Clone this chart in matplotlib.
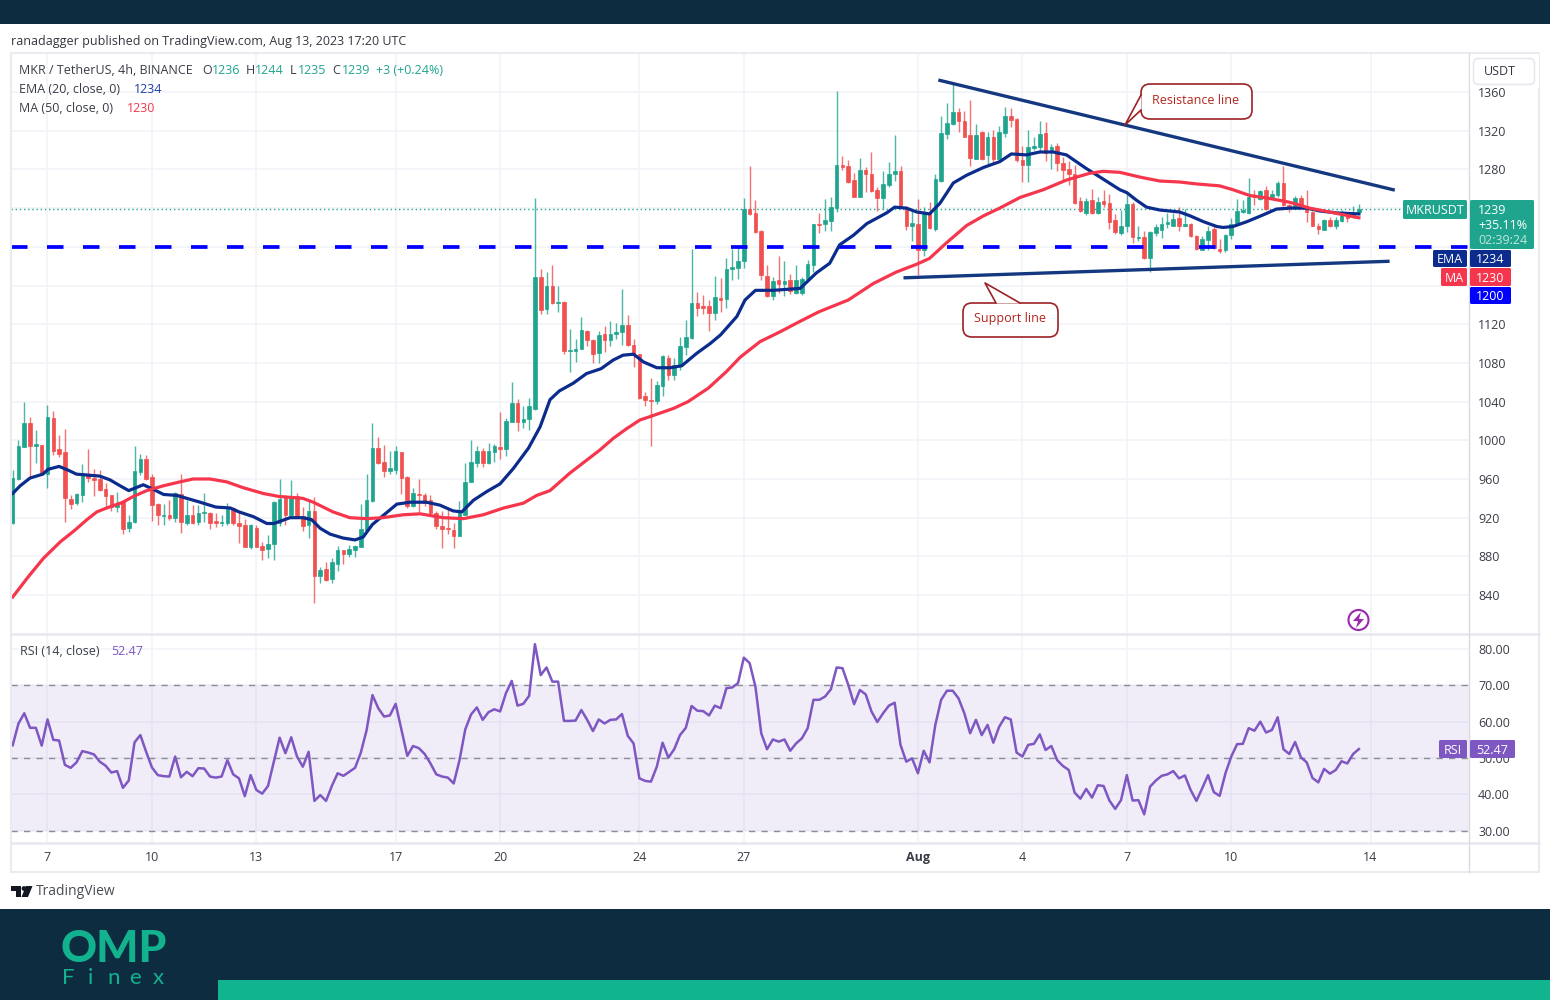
import matplotlib
matplotlib.use("Agg")
import matplotlib.pyplot as plt
import numpy as np
from matplotlib.patches import Circle, FancyBboxPatch, Polygon, Rectangle

plt.rcParams["font.family"] = ["Open Sans", "DejaVu Sans"]
plt.rcParams["font.size"] = 9

# candles, 4h, first one on Jul 6 00:00
opens = [
    915, 960, 993, 1018, 994, 995, 965, 1023, 991, 988,
    939, 935, 943, 965, 961, 960, 950, 943, 931, 936,
    909, 916, 967, 981, 962, 934, 922, 923, 920, 944,
    915, 923, 916, 925, 925, 917, 915, 915, 930, 914,
    912, 890, 909, 891, 888, 893, 914, 942, 923, 942,
    922, 912, 927, 860, 867, 857, 872, 887, 882, 887,
    890, 907, 937, 992, 978, 968, 969, 988, 962, 932,
    944, 943, 938, 925, 911, 909, 907, 901, 923, 957,
    977, 989, 977, 988, 993, 991, 1019, 1039, 1019, 1022,
    1032, 1169, 1136, 1159, 1142, 1143, 1092, 1092, 1094, 1113,
    1104, 1090, 1110, 1104, 1110, 1112, 1119, 1098, 1089, 1046,
    1042, 1041, 1056, 1085, 1068, 1077, 1096, 1106, 1142, 1139,
    1139, 1132, 1147, 1146, 1177, 1178, 1185, 1239, 1235, 1216,
    1170, 1149, 1166, 1162, 1166, 1152, 1152, 1167, 1181, 1224,
    1224, 1227, 1240, 1285, 1284, 1269, 1252, 1279, 1275, 1259,
    1250, 1264, 1275, 1278, 1241, 1222, 1224, 1197, 1235, 1218,
    1268, 1317, 1327, 1339, 1330, 1316, 1291, 1319, 1295, 1314,
    1291, 1318, 1335, 1332, 1290, 1285, 1302, 1303, 1318, 1298,
    1304, 1287, 1280, 1275, 1247, 1235, 1248, 1235, 1247, 1245,
    1228, 1214, 1221, 1244, 1209, 1210, 1188, 1214, 1217, 1224,
    1222, 1230, 1221, 1224, 1211, 1197, 1207, 1218, 1198, 1197,
    1212, 1225, 1236, 1235, 1253, 1249, 1259, 1252, 1254, 1266,
    1243, 1241, 1250, 1241, 1236, 1222, 1217, 1228, 1222, 1227,
    1234, 1231, 1236,
]
closes = [
    961, 994, 1018, 994, 996, 966, 1024, 989, 986, 940,
    934, 944, 966, 961, 959, 949, 942, 931, 934, 908,
    916, 968, 981, 960, 933, 923, 923, 920, 946, 916,
    923, 915, 925, 926, 915, 914, 916, 930, 914, 911,
    890, 912, 890, 887, 893, 936, 939, 923, 942, 922,
    911, 927, 860, 866, 856, 874, 887, 882, 888, 891,
    908, 938, 992, 977, 968, 971, 989, 961, 932, 945,
    943, 935, 925, 911, 908, 908, 901, 927, 957, 978,
    989, 977, 989, 994, 991, 1020, 1039, 1019, 1022, 1035,
    1169, 1135, 1159, 1142, 1143, 1092, 1093, 1094, 1114, 1104,
    1089, 1109, 1104, 1110, 1112, 1119, 1098, 1088, 1044, 1042,
    1041, 1057, 1087, 1068, 1078, 1097, 1107, 1142, 1137, 1137,
    1132, 1148, 1145, 1177, 1179, 1185, 1239, 1234, 1215, 1171,
    1149, 1165, 1162, 1165, 1154, 1166, 1167, 1182, 1224, 1223,
    1228, 1241, 1285, 1283, 1267, 1252, 1279, 1275, 1258, 1250,
    1265, 1275, 1278, 1241, 1222, 1225, 1197, 1235, 1219, 1270,
    1318, 1328, 1339, 1330, 1314, 1292, 1316, 1291, 1314, 1291,
    1319, 1335, 1331, 1290, 1285, 1303, 1304, 1317, 1297, 1303,
    1287, 1279, 1275, 1245, 1237, 1247, 1235, 1246, 1244, 1226,
    1215, 1222, 1244, 1210, 1210, 1188, 1215, 1220, 1224, 1226,
    1229, 1221, 1224, 1211, 1198, 1208, 1216, 1199, 1196, 1212,
    1224, 1237, 1238, 1252, 1252, 1258, 1239, 1255, 1266, 1243,
    1241, 1250, 1240, 1236, 1222, 1218, 1228, 1222, 1228, 1233,
    1230, 1235, 1239,
]
highs = [
    969, 1000, 1040, 1024, 1011, 995, 1036, 1030, 1005, 1012,
    943, 945, 976, 991, 970, 969, 956, 943, 947, 937,
    923, 994, 986, 985, 965, 935, 934, 938, 947, 965,
    938, 933, 933, 946, 926, 925, 923, 935, 931, 926,
    919, 913, 912, 895, 902, 937, 960, 943, 959, 946,
    931, 938, 941, 869, 874, 878, 891, 887, 892, 892,
    934, 965, 1018, 1003, 995, 989, 994, 988, 963, 951,
    960, 945, 943, 927, 927, 930, 914, 937, 977, 1000,
    994, 992, 997, 996, 1029, 1023, 1060, 1043, 1035, 1044,
    1250, 1177, 1174, 1181, 1160, 1144, 1115, 1105, 1127, 1114,
    1105, 1113, 1118, 1123, 1121, 1156, 1130, 1105, 1089, 1050,
    1064, 1061, 1088, 1088, 1085, 1107, 1124, 1198, 1153, 1150,
    1145, 1170, 1168, 1188, 1198, 1200, 1250, 1284, 1248, 1217,
    1181, 1169, 1190, 1185, 1172, 1181, 1169, 1186, 1224, 1235,
    1249, 1252, 1361, 1294, 1290, 1276, 1292, 1282, 1298, 1262,
    1278, 1288, 1316, 1284, 1242, 1238, 1249, 1241, 1246, 1275,
    1335, 1349, 1370, 1343, 1340, 1352, 1327, 1320, 1319, 1321,
    1325, 1344, 1343, 1333, 1304, 1321, 1313, 1330, 1329, 1306,
    1307, 1293, 1289, 1285, 1252, 1250, 1260, 1252, 1259, 1255,
    1234, 1238, 1257, 1246, 1221, 1216, 1216, 1224, 1231, 1235,
    1235, 1241, 1239, 1225, 1212, 1211, 1222, 1224, 1208, 1213,
    1230, 1249, 1248, 1271, 1259, 1259, 1263, 1259, 1268, 1284,
    1244, 1253, 1254, 1259, 1237, 1225, 1229, 1231, 1231, 1238,
    1235, 1242, 1244,
]
lows = [
    913, 959, 993, 961, 977, 966, 951, 985, 983, 916,
    929, 933, 936, 957, 942, 948, 931, 927, 926, 903,
    905, 915, 964, 959, 917, 912, 912, 918, 916, 904,
    912, 913, 912, 916, 908, 910, 911, 912, 912, 894,
    890, 888, 890, 876, 878, 876, 911, 912, 920, 921,
    906, 899, 832, 852, 855, 853, 865, 872, 879, 879,
    890, 907, 936, 975, 962, 965, 965, 944, 930, 931,
    926, 932, 924, 908, 889, 903, 889, 901, 923, 957,
    972, 972, 976, 978, 981, 984, 1019, 1010, 1013, 1011,
    1031, 1131, 1131, 1141, 1133, 1089, 1071, 1081, 1094, 1097,
    1080, 1080, 1091, 1097, 1105, 1098, 1097, 1076, 1043, 1035,
    994, 1037, 1046, 1062, 1062, 1073, 1088, 1105, 1128, 1131,
    1113, 1124, 1133, 1137, 1166, 1167, 1178, 1233, 1214, 1166,
    1148, 1145, 1152, 1149, 1151, 1151, 1150, 1165, 1174, 1214,
    1216, 1216, 1236, 1279, 1266, 1252, 1251, 1257, 1257, 1237,
    1239, 1262, 1268, 1240, 1217, 1206, 1171, 1191, 1218, 1216,
    1267, 1311, 1326, 1319, 1313, 1284, 1291, 1290, 1286, 1286,
    1290, 1314, 1324, 1288, 1267, 1267, 1300, 1299, 1289, 1280,
    1278, 1268, 1264, 1244, 1236, 1233, 1234, 1234, 1241, 1218,
    1213, 1212, 1215, 1204, 1206, 1187, 1174, 1211, 1209, 1219,
    1221, 1216, 1221, 1210, 1197, 1197, 1197, 1198, 1194, 1195,
    1208, 1224, 1235, 1234, 1243, 1248, 1238, 1249, 1252, 1242,
    1236, 1239, 1239, 1226, 1221, 1213, 1217, 1220, 1218, 1226,
    1226, 1230, 1235,
]

ema_idx = [
    0, 1.3, 3, 5.2, 6.1, 8, 9.6, 11, 13, 15, 16.8, 18.5, 20, 22.5, 24, 26, 28.3, 30,
    32.3, 35, 37.5, 39, 41.5, 43.8, 45, 47.8, 50, 51.5, 53, 54.7, 56.9, 59, 60.4, 62,
    64, 66.2, 68.5, 71.3, 73.6, 75.9, 77.4, 79.4, 81.7, 84, 86.3, 88.9, 90.9, 92.6,
    94.2, 96.6, 98.9, 101.4, 103.5, 105.2, 107, 108.7, 111, 113.3, 115.3, 117.9, 120.2,
    122, 124.8, 126.2, 128, 131, 135.7, 138.5, 140.8, 142.5, 144.9, 147.2, 150.6, 152,
    154, 155.8, 158, 159.8, 162.1, 164.4, 167.3, 170.1, 172.1, 174.7, 177, 179.3, 181.6,
    183.3, 185, 187.4, 190.8, 192, 193.7, 195.4, 197.7, 201.1, 202.9, 205.2, 207.5,
    208.6, 210.3, 212.7, 215.5, 217.8, 220.1, 223, 225.3, 228.2, 232,
]
ema_vals = [
    945, 953, 961, 965, 970, 973, 969, 965, 964, 963, 959, 953, 948, 954, 950, 944, 943, 940,
    936, 931, 930, 926, 921, 914, 914, 920, 920, 918, 909, 903, 899, 897, 900, 913,
    923, 934, 936, 936, 933, 927, 926, 938, 947, 955, 971, 992, 1014, 1042,
    1051, 1059, 1069, 1074, 1083, 1088, 1089, 1081, 1075, 1075, 1077, 1090, 1100,
    1109, 1128, 1145, 1155, 1155, 1157, 1173, 1183, 1202, 1212, 1224, 1235, 1241,
    1240, 1236, 1234, 1245, 1266, 1274, 1282, 1288, 1296, 1295, 1298, 1298, 1295,
    1288, 1281, 1272, 1259, 1256, 1248, 1241, 1238, 1236, 1232, 1226, 1221,
    1220, 1221, 1226, 1233, 1239, 1240, 1240, 1237, 1235, 1234,
]
ma_idx = [
    0, 2.7, 5.3, 8.2, 10.7, 12.8, 14.5, 16.2, 19, 20.8, 23.1, 26, 28.8, 31.1, 34, 36.9,
    39.7, 43.2, 45.8, 50, 51.8, 55.2, 58.1, 60.9, 63.8, 67.3, 70.2, 74.2, 77.7, 81.1,
    84.6, 88, 90.3, 92.6, 96, 101.2, 103.5, 105.8, 108.1, 110.1, 113.9, 116.4, 119.9, 123,
    125.4, 128.8, 132.2, 135.7, 139, 141.5, 144, 148.3, 152.3, 155.8, 158, 160.9, 164.4,
    167.3, 170.1, 173.6, 177.6, 181.6, 185.6, 187.9, 190.8, 194.3, 197.7, 201.1, 204, 208,
    210.3, 213.2, 216.6, 220.1, 223.5, 226.9, 232,
]
ma_vals = [
    838, 859, 878, 895, 907, 918, 926, 930, 936, 942, 948, 953, 957, 960, 960, 957,
    951, 945, 942, 940, 936, 926, 920, 919, 920, 923, 924, 920, 919, 923,
    930, 935, 943, 948, 966, 990, 1002, 1012, 1021, 1025, 1033, 1040, 1054, 1071,
    1086, 1102, 1112, 1123, 1133, 1139, 1145, 1162, 1174, 1182, 1188, 1204, 1222,
    1232, 1240, 1251, 1259, 1269, 1276, 1278, 1277, 1272, 1268, 1267, 1265, 1263,
    1259, 1253, 1250, 1246, 1240, 1236, 1230,
]

rsi_vals = [
    53.5, 59.5, 62.3, 58.3, 58.3, 53.4, 60.6, 55.0, 54.8, 48.1,
    47.3, 48.8, 51.9, 51.5, 51.0, 49.0, 47.9, 46.0, 46.4, 41.8,
    43.8, 54.3, 56.3, 51.7, 47.4, 45.3, 45.0, 44.9, 50.4, 44.7,
    46.2, 45.0, 47.2, 47.1, 44.9, 44.6, 44.9, 49.4, 45.5, 44.4,
    39.5, 45.3, 41.2, 40.2, 42.3, 49.0, 55.6, 51.3, 55.7, 50.4,
    47.6, 51.7, 38.2, 39.8, 38.2, 42.3, 45.8, 45.1, 46.2, 47.3,
    51.5, 57.7, 67.3, 63.7, 61.4, 61.7, 64.9, 57.7, 50.6, 53.3,
    52.7, 51.1, 48.5, 45.5, 44.9, 44.6, 43.0, 49.4, 57.9, 62.0,
    63.9, 60.5, 62.6, 63.4, 62.8, 67.8, 71.2, 64.4, 64.9, 67.1,
    81.3, 72.8, 74.9, 71.0, 71.0, 60.2, 60.2, 60.3, 63.2, 60.5,
    57.4, 60.6, 59.5, 60.5, 60.6, 62.1, 56.1, 54.0, 44.4, 43.7,
    43.5, 47.6, 54.2, 50.1, 52.4, 56.3, 58.3, 64.3, 63.0, 62.9,
    61.7, 64.4, 63.7, 69.2, 69.4, 70.6, 77.6, 76.1, 69.6, 56.8,
    52.4, 55.1, 54.5, 55.1, 52.0, 54.0, 55.4, 58.2, 66.0, 66.0,
    66.9, 68.9, 74.9, 74.7, 70.1, 64.8, 68.7, 67.5, 62.8, 59.9,
    62.3, 64.4, 65.2, 53.6, 49.0, 49.9, 45.8, 52.0, 48.8, 59.1,
    66.0, 68.5, 68.5, 66.4, 62.3, 56.8, 60.5, 56.3, 59.1, 54.2,
    58.6, 61.2, 60.6, 51.5, 50.4, 53.6, 53.9, 56.5, 52.2, 53.3,
    49.4, 47.8, 46.7, 40.5, 38.8, 41.5, 39.1, 42.5, 42.3, 38.3,
    36.0, 38.4, 45.3, 38.3, 38.4, 34.5, 42.1, 43.8, 45.1, 45.5,
    46.4, 44.4, 45.2, 41.2, 38.2, 41.7, 45.3, 40.6, 39.6, 45.8,
    50.4, 53.8, 53.9, 58.2, 57.5, 60.0, 57.0, 57.7, 61.2, 52.4,
    51.1, 54.4, 50.2, 48.8, 44.5, 43.3, 47.0, 45.7, 46.7, 49.1,
    48.5, 51.1, 52.47,
]

last_close = 1239
support_level = 1200
resistance_idx = [159.8, 237.9]
resistance_vals = [1372, 1259]
support_idx = [153.8, 237]
support_vals = [1168, 1185]

day_pos = [6, 24, 42, 66, 84, 108, 126, 156, 174, 192, 210, 234]
day_labels = ["7", "10", "13", "17", "20", "24", "27", "Aug", "4", "7", "10", "14"]
price_ticks = list(range(840, 1361, 40))
# these three sit behind the price tags
hidden_prices = [1160, 1200, 1240]
rsi_ticks = [30, 40, 50, 60, 70, 80]

UP = "#1fa58e"
DOWN = "#f0504f"
EMA_COL = "#0b2c8c"
MA_COL = "#f5364c"
RSI_COL = "#7e57c2"
GRID = "#f1f3f8"
BAND = "#0e2c40"
TEXT = "#3a3d47"

W, H = 1550, 1000
fig = plt.figure(figsize=(15.5, 10), dpi=100, facecolor="white")


def add_px_axes(x0, y0, x1, y1):
    return fig.add_axes([x0 / W, 1 - y1 / H, (x1 - x0) / W, (y1 - y0) / H])


# main pane
ax = add_px_axes(11, 54, 1469, 633)
ax.set_xlim(-0.29, 250.97)
ax.set_ylim(800.8, 1399.3)
x = np.arange(len(opens))
o = np.array(opens)
c = np.array(closes)
up = c >= o

ax.set_xticks(day_pos)
ax.set_xticklabels([])
ax.set_yticks(price_ticks)
ax.set_yticklabels(["" if t in hidden_prices else str(t) for t in price_ticks])
ax.grid(True, color=GRID, lw=1.2)
ax.set_axisbelow(True)
ax.yaxis.tick_right()
ax.tick_params(length=0, labelsize=9, labelcolor=TEXT, pad=6.5)
for s in ax.spines.values():
    s.set_visible(False)

ax.axhline(last_close, color=UP, lw=1, ls=(0, (1, 2)), zorder=1)
ax.vlines(x[up], np.array(lows)[up], np.array(highs)[up], color=UP, lw=1, alpha=0.8, zorder=2)
ax.vlines(x[~up], np.array(lows)[~up], np.array(highs)[~up], color=DOWN, lw=1, alpha=0.8, zorder=2)
ax.bar(x[up], (c - o)[up], bottom=o[up], width=0.62, color=UP, edgecolor=UP, lw=0.5, zorder=3)
ax.bar(x[~up], (c - o)[~up], bottom=o[~up], width=0.62, color=DOWN, edgecolor=DOWN, lw=0.5, zorder=3)
ax.axhline(support_level, color="#0000ff", lw=2.7, ls=(0, (4.4, 5.2)), zorder=4)
ax.plot(ema_idx, ema_vals, color=EMA_COL, lw=2.3, zorder=5)
ax.plot(ma_idx, ma_vals, color=MA_COL, lw=2.3, zorder=5)
ax.plot(resistance_idx, resistance_vals, color="#14387f", lw=2.4, zorder=6)
ax.plot(support_idx, support_vals, color="#14387f", lw=2.4, zorder=6)

# RSI pane
ax2 = add_px_axes(11, 634, 1469, 842)
ax2.set_xlim(-0.29, 250.97)
ax2.set_ylim(26.9, 84.1)
ax2.set_xticks(day_pos)
ax2.set_xticklabels(day_labels)
ax2.get_xticklabels()[7].set_fontweight("bold")
ax2.set_yticks(rsi_ticks)
ax2.set_yticklabels(["%.2f" % t for t in rsi_ticks])
ax2.grid(True, color=GRID, lw=1.2)
ax2.set_axisbelow(True)
ax2.yaxis.tick_right()
ax2.tick_params(length=0, labelsize=9, labelcolor=TEXT, pad=6.5)
ax2.tick_params(axis="x", pad=6.5)
for s in ax2.spines.values():
    s.set_visible(False)
ax2.axhspan(30, 70, color=RSI_COL, alpha=0.1, lw=0, zorder=1)
for lev in [30, 50, 70]:
    ax2.axhline(lev, color="#8a8c96", lw=1, ls=(0, (4.5, 4.5)), zorder=2)
ax2.plot(x, rsi_vals, color=RSI_COL, lw=1.8, zorder=3)

# everything around the panes, in picture pixels
ov = fig.add_axes([0, 0, 1, 1], zorder=10)
ov.set_xlim(0, W)
ov.set_ylim(H, 0)
ov.axis("off")


def box(x0, y0, x1, y1, col, z=3):
    ov.add_patch(Rectangle((x0, y0), x1 - x0, y1 - y0, fc=col, ec="none", zorder=z))


def label(px, py, s, col=TEXT, size=9, ha="left", **kw):
    ov.text(px, py + 1.5, s, color=col, fontsize=size, ha=ha, va="center", **kw)


def tag(x0, x1, y0, y1, col, s, txt="white"):
    ov.add_patch(FancyBboxPatch((x0 + 1, y0 + 1), x1 - x0 - 2, y1 - y0 - 2,
                                boxstyle="round,pad=1,rounding_size=1.5", fc=col, ec="none", zorder=3))
    label((x0 + x1) / 2, (y0 + y1) / 2 - 0.5, s, txt, ha="center", zorder=4)


box(0, 0, W, 24, BAND)
box(0, 909, W, H, BAND)
box(218, 980, W, H, "#10b48e", z=4)

ov.add_patch(Rectangle((11, 53), 1528, 819, fc="none", ec="#e9ebf1", lw=1.5))
ov.plot([11, 1539], [633.5, 633.5], color="#e6e8ee", lw=1.8)
ov.plot([11, 1539], [842.5, 842.5], color="#e6e8ee", lw=1.8)
ov.plot([1469, 1469], [53, 872], color="#d9dbe1", lw=1)

label(11, 40, "ranadagger published on TradingView.com, Aug 13, 2023 17:20 UTC", "#33363f")
label(19, 69, "MKR / TetherUS, 4h, BINANCE")
for px, s, col in [(202, "O", TEXT), (212, "1236", UP), (246, "H", TEXT), (255, "1244", UP),
                   (290, "L", TEXT), (298, "1235", UP), (332, "C", TEXT), (342, "1239", UP),
                   (376, "+3 (+0.24%)", UP)]:
    label(px, 69, s, col)
label(19, 88, "EMA (20, close, 0)")
label(134, 88, "1234", "#1e3fa8")
label(19, 107, "MA (50, close, 0)")
label(127, 107, "1230", MA_COL)
label(20, 650, "RSI (14, close)")
label(111, 650, "52.47", RSI_COL)

# price scale tags
box(1470, 54, 1539, 88, "white", z=2)
ov.add_patch(FancyBboxPatch((1475, 60), 58, 23, boxstyle="round,pad=1.5,rounding_size=5",
                            fc="white", ec="#e6e8ee", lw=1.2, zorder=3))
label(1484, 70, "USDT", "#33363f", zorder=4)
tag(1403, 1467, 200, 219, UP, "MKRUSDT")
ov.add_patch(FancyBboxPatch((1471, 201), 62, 47, boxstyle="round,pad=1,rounding_size=1.5",
                            fc=UP, ec="none", zorder=3))
label(1478, 208.5, "1239", "white", zorder=4)
label(1478, 224, "+35.11%", "white", zorder=4)
label(1478, 239, "02:39:24", "#bfe6de", zorder=4)
tag(1433, 1467, 250, 267, EMA_COL, "EMA")
tag(1470, 1511, 250, 267, EMA_COL, "1234")
tag(1441, 1467, 268, 286, MA_COL, "MA")
tag(1470, 1511, 268, 286, MA_COL, "1230")
tag(1470, 1511, 287, 304, "#0000ff", "1200")
tag(1439, 1467, 740, 758, RSI_COL, "RSI")
tag(1470, 1515, 740, 758, RSI_COL, "52.47")

# callouts
CALL = "#9b2226"
ov.add_patch(FancyBboxPatch((1146, 89), 101, 25, boxstyle="round,pad=5,rounding_size=9",
                            fc="white", ec=CALL, lw=1.2, zorder=3))
ov.add_patch(Polygon([(1141.5, 95), (1125, 125), (1141.5, 110)], closed=True, fc="white", ec="none", zorder=4))
ov.plot([1141, 1125, 1141], [95, 125, 110], color=CALL, lw=1.2, zorder=5)
label(1196, 99, "Resistance line", "#b3261e", ha="center", zorder=6)
ov.add_patch(FancyBboxPatch((968, 308), 85, 24, boxstyle="round,pad=5,rounding_size=9",
                            fc="white", ec=CALL, lw=1.2, zorder=3))
ov.add_patch(Polygon([(996, 303.5), (985, 283), (1020, 303.5)], closed=True, fc="white", ec="none", zorder=4))
ov.plot([996, 985, 1020], [303, 283, 303], color=CALL, lw=1.2, zorder=5)
label(1010, 317, "Support line", "#b3261e", ha="center", zorder=6)

# lightning mark
ov.add_patch(Circle((1358.5, 620), 10, fc="white", ec="#9c27b0", lw=1.5))
ov.add_patch(Polygon([(1361, 612), (1353, 621), (1358, 621), (1356, 628), (1364, 619), (1359, 619)],
                     closed=True, fc="#9c27b0", ec="none"))

# TradingView logo
TV = "#131722"
ov.add_patch(Polygon([(11, 886), (21, 886), (21, 897), (16, 897), (16, 891), (11, 891)], closed=True, fc=TV, ec="none"))
ov.add_patch(Circle((24, 888.5), 2.4, fc=TV, ec="none"))
ov.add_patch(Polygon([(26, 886), (32.5, 886), (28, 897), (21.5, 897)], closed=True, fc=TV, ec="none"))
label(36, 890, "TradingView", "#4a4d57", size=10)

# OMP Finex logo
label(61, 948, "OMP", "#12b28f", size=32, fontweight="black", family="Lato", zorder=5)
for px, s in [(62, "F"), (88, "i"), (107, "n"), (129, "e"), (153, "x")]:
    label(px, 977, s, "#12b28f", size=16, family="Lato", zorder=5)

fig.savefig("out.png", dpi=100, facecolor="white")
